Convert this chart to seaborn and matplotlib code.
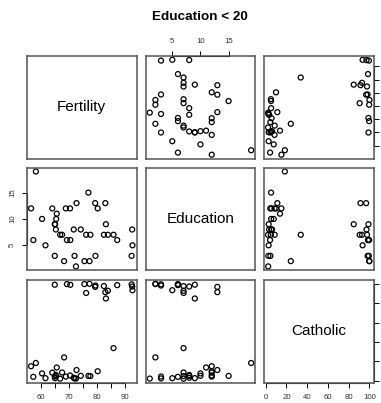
import matplotlib
matplotlib.use("Agg")
import matplotlib.pyplot as plt
import seaborn as sns
import pandas as pd

# swiss data, provinces with Education < 20
fertility = [80.2, 83.1, 92.5, 85.8, 76.9, 76.1, 83.8, 92.4, 82.4, 82.9, 87.1,
             64.1, 66.9, 68.9, 61.7, 68.3, 71.7, 65.1, 65.5, 65.0, 56.6, 57.4,
             72.5, 74.2, 72.0, 60.5, 58.3, 65.4, 75.5, 69.3, 77.3, 70.5, 79.4,
             65.0, 92.2, 79.3, 70.4, 65.7, 72.7, 77.6, 67.6]
education = [12, 9, 5, 7, 15, 7, 7, 8, 7, 13, 6,
             12, 7, 12, 5, 2, 8, 9, 10, 3, 12, 6,
             1, 8, 3, 10, 19, 8, 2, 6, 2, 6, 3,
             9, 3, 13, 12, 11, 13, 7, 7]
catholic = [9.96, 84.84, 93.40, 33.77, 5.16, 90.57, 92.85, 97.16, 97.67, 91.38, 98.61,
            8.52, 2.27, 4.43, 2.82, 24.20, 3.30, 2.84, 5.23, 4.52, 15.14, 4.20,
            2.40, 5.23, 2.56, 7.72, 18.46, 6.10, 99.71, 99.68, 100.00, 98.96, 98.22,
            99.06, 99.46, 96.83, 5.62, 13.79, 11.22, 4.97, 8.65]

var_names = ["Fertility", "Education", "Catholic"]
fert_ticks = [60, 65, 70, 75, 80, 85, 90]
fert_labels = ["60", "", "70", "", "80", "", "90"]
edu_ticks = [5, 10, 15]
edu_labels = ["5", "10", "15"]
cath_ticks = [0, 20, 40, 60, 80, 100]
cath_labels = ["0", "20", "40", "60", "80", "100"]
title = "Education < 20"

df = pd.DataFrame({"Fertility": fertility, "Education": education, "Catholic": catholic})
ticks = {"Fertility": (fert_ticks, fert_labels),
         "Education": (edu_ticks, edu_labels),
         "Catholic": (cath_ticks, cath_labels)}

sns.set_theme(style="white")
plt.rcParams['font.family'] = ['Liberation Sans', 'DejaVu Sans']

W, H = 381, 403
fig = plt.figure(figsize=(W / 100, H / 100), dpi=100)
fig.patch.set_facecolor("white")

col_x = [27, 145.7, 264]
row_y = [56, 167.7, 280]
pw, ph = 109.5, 102.5
n = len(var_names)


def lims(v):
    lo, hi = df[v].min(), df[v].max()
    pad = 0.04 * (hi - lo)
    return lo - pad, hi + pad


tick_kw = dict(length=3.5, width=0.7, color="black", labelsize=5.6,
               labelcolor="#333333", pad=4.5)

for i, yv in enumerate(var_names):
    for j, xv in enumerate(var_names):
        ax = fig.add_axes([col_x[j] / W, 1 - (row_y[i] + ph) / H, pw / W, ph / H])
        ax.set_facecolor("white")
        if i == j:
            ax.text(0.5, 0.5, yv, transform=ax.transAxes, ha="center", va="center",
                    fontsize=11, color="black")
        else:
            sns.scatterplot(data=df, x=xv, y=yv, ax=ax, marker="o", s=13,
                            facecolor="none", edgecolor="black", linewidth=0.9)
        ax.set_xlim(*lims(xv))
        ax.set_ylim(*lims(yv))
        ax.set_xlabel("")
        ax.set_ylabel("")
        for sp in ax.spines.values():
            sp.set_color("#555555")
            sp.set_linewidth(1.1)
        ax.tick_params(axis="both", which="both", bottom=False, top=False,
                       left=False, right=False, labelbottom=False, labeltop=False,
                       labelleft=False, labelright=False)

        # x axes
        xt, xl = ticks[xv]
        if i == 0 and j % 2 == 1:
            ax.set_xticks(xt, xl)
            ax.tick_params(axis="x", top=True, labeltop=True, **tick_kw)
            ax.plot([xt[0], xt[-1]], [1, 1], transform=ax.get_xaxis_transform(),
                    color="black", lw=0.8, clip_on=False)
        elif i == n - 1 and j % 2 == 0:
            ax.set_xticks(xt, xl)
            ax.tick_params(axis="x", bottom=True, labelbottom=True, **tick_kw)
            ax.plot([xt[0], xt[-1]], [0, 0], transform=ax.get_xaxis_transform(),
                    color="black", lw=0.8, clip_on=False)
        else:
            ax.set_xticks([])

        # y axes
        yt, yl = ticks[yv]
        if j == 0 and i % 2 == 1:
            ax.set_yticks(yt, yl)
            ax.tick_params(axis="y", left=True, labelleft=True, **tick_kw)
            for t in ax.get_yticklabels():
                t.set_rotation(90)
                t.set_va("center")
                t.set_ha("right")
            ax.plot([0, 0], [yt[0], yt[-1]], transform=ax.get_yaxis_transform(),
                    color="black", lw=0.8, clip_on=False)
        elif j == n - 1 and i % 2 == 0:
            ax.set_yticks(yt, [""] * len(yt))
            ax.tick_params(axis="y", right=True, labelright=False, **tick_kw)
            ax.plot([1, 1], [yt[0], yt[-1]], transform=ax.get_yaxis_transform(),
                    color="black", lw=0.8, clip_on=False)
        else:
            ax.set_yticks([])

fig.text(200 / W, 1 - 17.5 / H, title, ha="center", va="center",
         fontsize=9.7, fontweight="bold", color="black")

fig.savefig("out.png", dpi=100)
